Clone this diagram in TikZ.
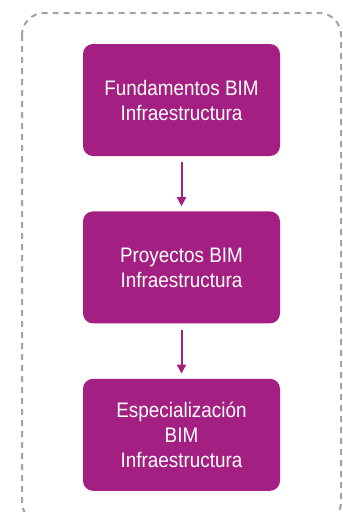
\documentclass[tikz,border=0pt]{standalone}
\usepackage{fontspec}
\setmainfont{Liberation Sans}[FakeStretch=0.9]
\usepackage{tikz}
\usetikzlibrary{arrows,arrows.meta,positioning}
\definecolor{bimmagenta}{HTML}{A31F82}
\definecolor{framegray}{HTML}{A3A3A3}
\tikzstyle{course}=[rectangle, rounded corners=10pt, fill=bimmagenta,
                    text=white, minimum width=197pt, minimum height=112pt,
                    align=center, inner sep=0pt,
                    font=\fontsize{21}{25}\selectfont]
\tikzstyle{link}  =[draw=bimmagenta, line width=2pt, shorten <=6pt,
                    shorten >=5pt, -{Triangle[width=9pt,length=9pt]}]
\tikzstyle{frame} =[draw=framegray, line width=2pt, dash pattern=on 6pt off 5pt,
                    rounded corners=22pt]

\begin{document}
\begin{tikzpicture}[node distance=55pt]
    \useasboundingbox (0,0) rectangle (343pt,-512pt);
    \clip (0,0) rectangle (343pt,-512pt);
    \draw[frame] (22pt,-13pt) rectangle (341pt,-524pt);

    \node[course] (fund) at (181.5pt,-100pt) {Fundamentos BIM\\Infraestructura};
    \node[course, below=of fund] (proy) {Proyectos BIM\\Infraestructura};
    \node[course, below=of proy] (espe) {Especialización\\BIM\\Infraestructura};

    \draw[link] (fund) -- (proy);
    \draw[link] (proy) -- (espe);
\end{tikzpicture}
\end{document}
